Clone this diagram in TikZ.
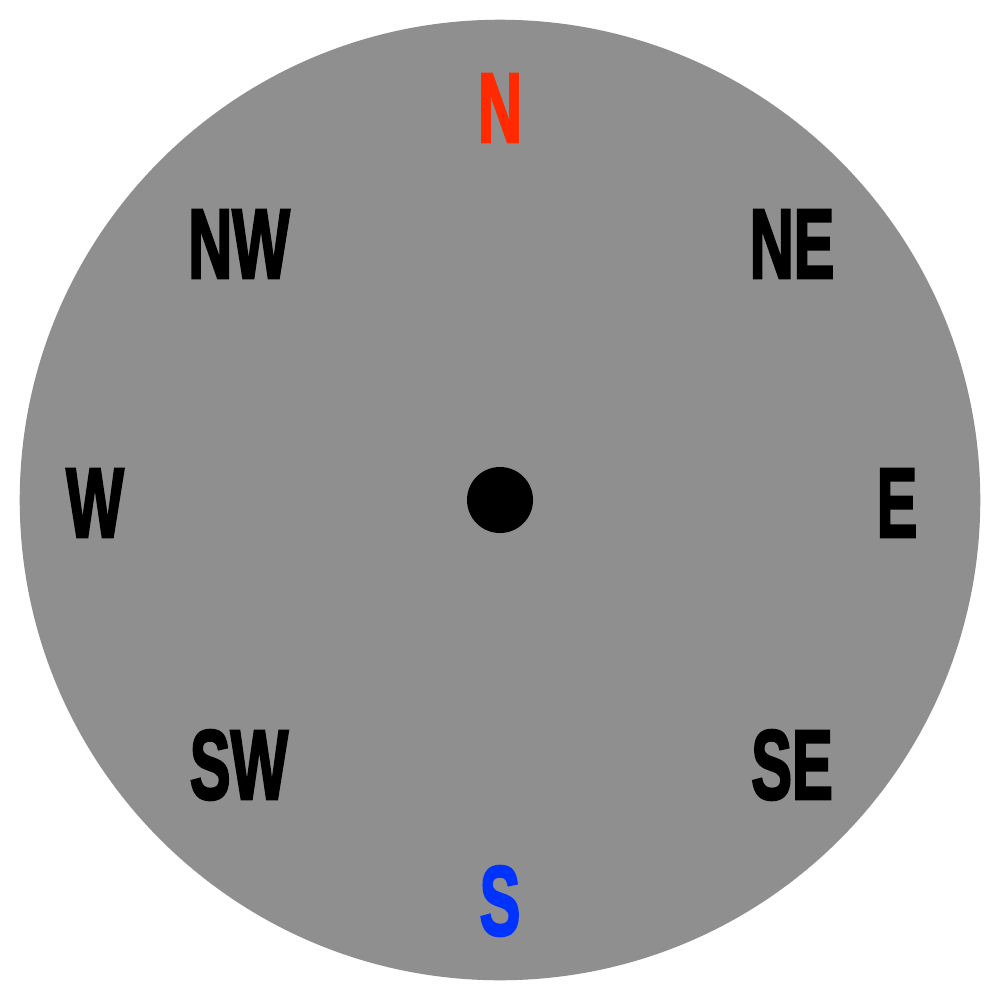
\documentclass[tikz,border=0pt]{standalone}
\usepackage{fontspec}
\setmainfont{Liberation Sans}
\newfontfamily\cmpfont[FakeBold=3]{Liberation Sans Bold}
\usepackage{graphicx}
\definecolor{dialgray}{HTML}{8F8F8F}
\definecolor{northred}{HTML}{FF2A00}
\definecolor{southblue}{HTML}{0033FF}
\newcommand{\cmpl}[1]{\scalebox{0.62}[1]{\cmpfont\fontsize{28}{30}\selectfont #1}}
\begin{document}
\begin{tikzpicture}[x=0.01cm,y=-0.01cm,
  lbl/.style={inner sep=0pt, anchor=center}]
\useasboundingbox (0,0) rectangle (1000,1000);
\fill[white] (0,0) rectangle (1000,1000);
\node[circle, fill=dialgray, minimum size=9.6cm, inner sep=0pt] (dial) at (500,500) {};
\node[circle, fill=black, minimum size=0.66cm, inner sep=0pt] (hub) at (500,500) {};
\node[lbl, text=northred] (n) at (500,108) {\cmpl{N}};
\node[lbl, text=southblue] (s) at (500,901) {\cmpl{S}};
\node[lbl] (e) at (897,503) {\cmpl{E}};
\node[lbl] (w) at (95,503) {\cmpl{W}};
\node[lbl] (ne) at (792,244) {\cmpl{NE}};
\node[lbl] (nw) at (239,244) {\cmpl{NW}};
\node[lbl] (se) at (792,765) {\cmpl{SE}};
\node[lbl] (sw) at (239,765) {\cmpl{SW}};
\end{tikzpicture}
\end{document}
